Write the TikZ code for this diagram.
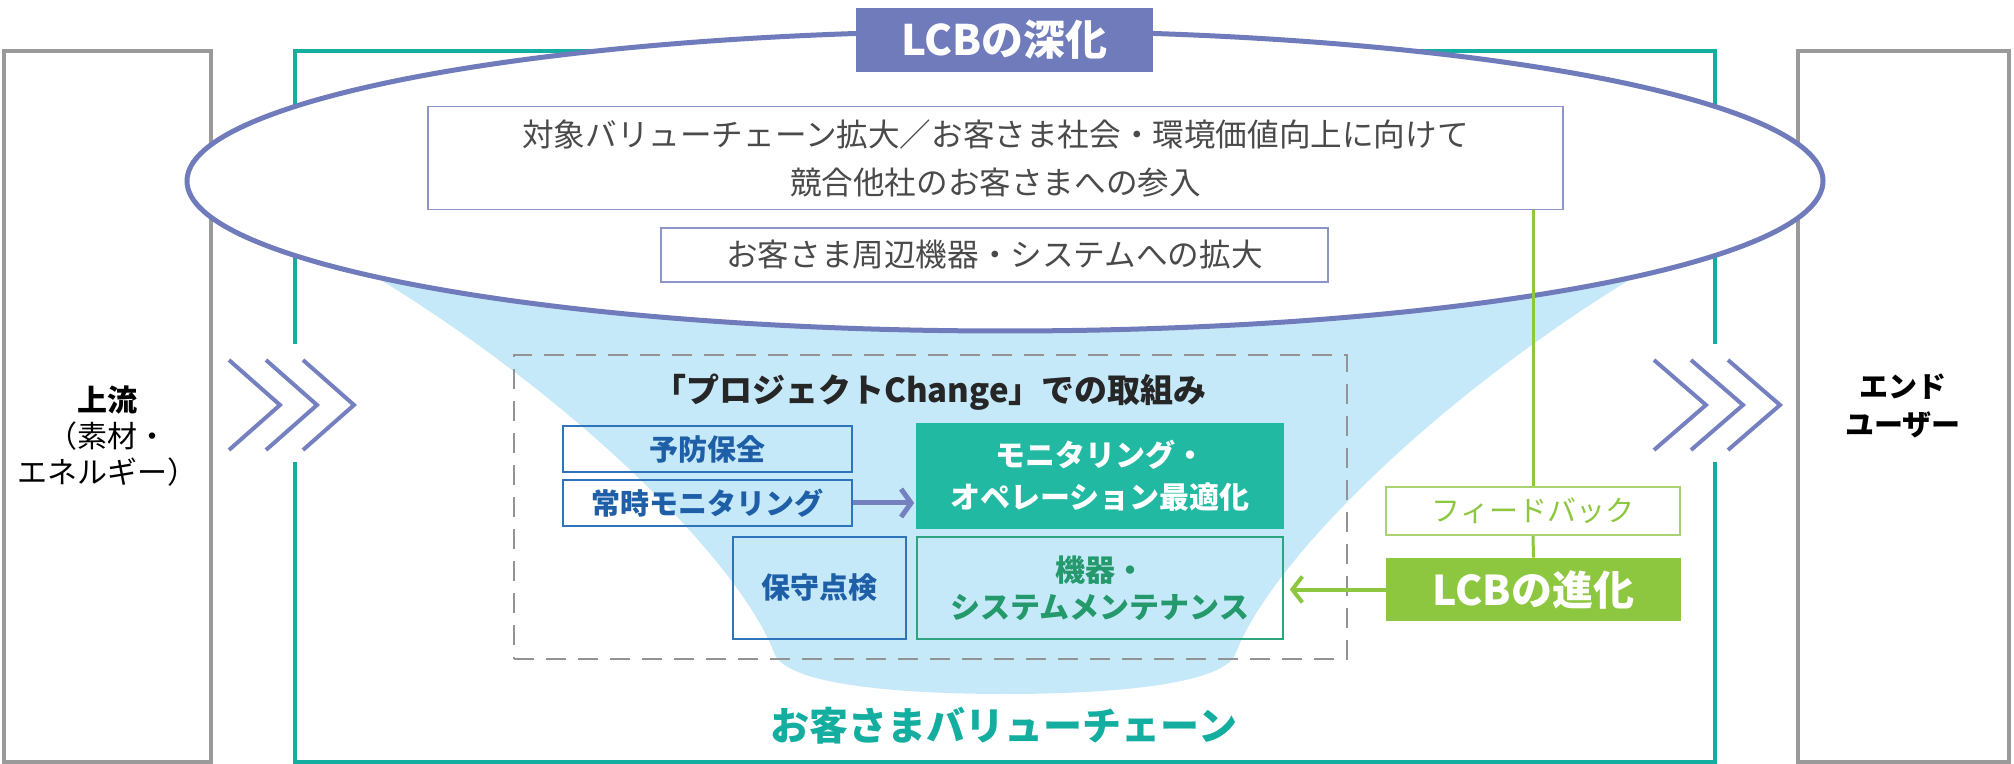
\documentclass[tikz,border=0pt]{standalone}
\usepackage{fontspec}
\setmainfont{Noto Sans CJK JP}
\usetikzlibrary{arrows.meta}

\definecolor{lcbpurple}{HTML}{6F7BBA}
\definecolor{chevpurple}{HTML}{7580C1}
\definecolor{funnelblue}{HTML}{C6E9FA}
\definecolor{vcteal}{HTML}{13AE9F}
\definecolor{framegray}{HTML}{9A9A9A}
\definecolor{optteal}{HTML}{22B9A3}
\definecolor{lcbgreen}{HTML}{8DC63F}
\definecolor{fbgreen}{HTML}{A9D371}
\definecolor{pcblue}{HTML}{2F73BA}
\definecolor{pctext}{HTML}{1E5FA8}
\definecolor{mntgreen}{HTML}{2EA57E}
\definecolor{mnttext}{HTML}{23996C}
\definecolor{bodygray}{HTML}{4A4A4A}

\tikzset{
  sidebox/.style={draw=framegray, line width=2pt, inner sep=0pt, minimum height=355.5pt},
  sidetext/.style={align=center, text=black, font=\fontsize{15}{18}\selectfont},
  scopebox/.style={draw=lcbpurple!80, line width=0.8pt, inner sep=0pt, align=center,
    text=bodygray, font=\fontsize{15.8}{24}\selectfont},
  pcbox/.style={draw=pcblue, line width=0.8pt, inner sep=0pt, align=center,
    text=pctext, font=\bfseries\fontsize{14.5}{18.5}\selectfont},
  lcbtag/.style={inner sep=0pt, text=white, font=\bfseries\fontsize{21}{24}\selectfont},
  chevron/.style={draw=chevpurple, line width=2pt},
  fbline/.style={draw=lcbgreen, line width=1.5pt}
}

\begin{document}
\begin{tikzpicture}[x=0.5pt, y=-0.5pt]
\useasboundingbox (0,0) rectangle (2014,764);

% upstream and end user
\node[sidebox, minimum width=103.5pt] (upbox) at (107.5,406.5) {};
\node[sidebox, minimum width=105.5pt] (endbox) at (1903.5,406.5) {};
\node[sidetext] (uptext) at (108,436) {\textbf{上流}\\（素材・\\エネルギー）};
\node[sidetext, font=\bfseries\fontsize{14.5}{19}\selectfont] (endtext) at (1903,406) {エンド\\ユーザー};

% customer value chain frame
\draw[vcteal, line width=2pt] (295,344) -- (295,51) -- (1715,51) -- (1715,344);
\draw[vcteal, line width=2pt] (295,462) -- (295,762) -- (1715,762) -- (1715,462);
\foreach \dx in {0,37,74} {
  \draw[chevron] (229+\dx,360) -- (280+\dx,405) -- (229+\dx,450);
  \draw[chevron] (1654+\dx,360) -- (1706+\dx,405) -- (1654+\dx,450);
}

% funnel
\fill[funnelblue] (330,250) .. controls (560,380) and (740,560) .. (775,655)
  .. controls (790,685) and (900,694) .. (1005,694)
  .. controls (1110,694) and (1220,685) .. (1235,655)
  .. controls (1270,560) and (1450,380) .. (1680,250) -- cycle;

% deepening
\draw[lcbpurple, line width=2.5pt, fill=white] (1005,181) ellipse [x radius=409pt, y radius=75pt];
\node[lcbtag, fill=lcbpurple, minimum width=148.5pt, minimum height=32pt] (deepen) at (1004.5,40) {LCBの深化};
\node[scopebox, minimum width=567.5pt, minimum height=51.5pt] (widen) at (995.5,158)
  {対象バリューチェーン拡大／お客さま社会・環境価値向上に向けて\\競合他社のお客さまへの参入};
\node[scopebox, minimum width=333.5pt, minimum height=27pt] (periph) at (994.5,255)
  {お客さま周辺機器・システムへの拡大};

% project change
\node[draw=gray!85, dash pattern=on 10pt off 6pt, line width=0.8pt, inner sep=0pt,
  minimum width=416.5pt, minimum height=152pt] (pcframe) at (930.5,507) {};
\node[text=black!85, font=\bfseries\fontsize{16.5}{20}\selectfont] (pctitle) at (930,392)
  {「プロジェクトChange」での取組み};
\node[pcbox, minimum width=144.5pt, minimum height=23pt] (prevent) at (707.5,449) {予防保全};
\node[pcbox, minimum width=144.5pt, minimum height=23pt] (monitor) at (707.5,503) {常時モニタリング};
\node[pcbox, minimum width=86.5pt, minimum height=51pt] (inspect) at (819.5,588) {保守点検};
\node[pcbox, fill=optteal, draw=optteal, text=white, font=\bfseries\fontsize{15}{21}\selectfont,
  minimum width=183pt, minimum height=52pt] (optim) at (1100,476) {モニタリング・\\オペレーション最適化};
\node[pcbox, draw=mntgreen, text=mnttext, font=\bfseries\fontsize{15}{18.5}\selectfont,
  minimum width=183pt, minimum height=51pt] (maint) at (1100,588) {機器・\\システムメンテナンス};
\draw[chevpurple, line width=2.5pt, -{Straight Barb[length=5pt, width=14pt]}, shorten >=1pt]
  (monitor.east) -- (monitor.east -| optim.west);

% evolution
\node[draw=fbgreen, line width=0.8pt, inner sep=0pt, text=lcbgreen, font=\fontsize{14.5}{18}\selectfont,
  minimum width=147pt, minimum height=24pt] (fb) at (1533,511) {フィードバック};
\node[lcbtag, fill=lcbgreen, minimum width=147.5pt, minimum height=31.5pt,
  font=\bfseries\fontsize{20.5}{24}\selectfont] (evolve) at (1533.5,589.5) {LCBの進化};
\draw[fbline] (fb.north |- widen.south) -- (fb.north);
\draw[fbline] (fb.south) -- (evolve.north);
\draw[lcbgreen, line width=2pt, -{Straight Barb[length=5pt, width=13pt]}, shorten >=3pt]
  (evolve.west) -- (evolve.west -| maint.east);

\node[text=vcteal, font=\bfseries\fontsize{19.5}{24}\selectfont] (vclabel) at (1004,726) {お客さまバリューチェーン};
\end{tikzpicture}
\end{document}
